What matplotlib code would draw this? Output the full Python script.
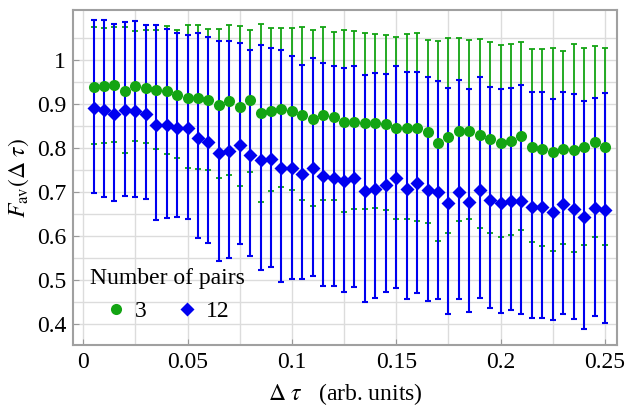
import numpy as np
import matplotlib
matplotlib.use("Agg")
import matplotlib.pyplot as plt
from matplotlib.lines import Line2D

plt.rcParams['font.family'] = ['Liberation Serif', 'DejaVu Serif']
plt.rcParams['mathtext.fontset'] = 'stix'

# data
dtau = [0.005 * (i + 1) for i in range(50)]

green_mean = [0.939, 0.941, 0.943, 0.930, 0.941, 0.938, 0.932, 0.930, 0.922, 0.915,
              0.914, 0.909, 0.899, 0.908, 0.894, 0.909, 0.879, 0.885, 0.890, 0.885,
              0.875, 0.867, 0.875, 0.871, 0.860, 0.860, 0.858, 0.858, 0.854, 0.845,
              0.847, 0.845, 0.836, 0.812, 0.826, 0.839, 0.839, 0.831, 0.822, 0.812,
              0.817, 0.827, 0.803, 0.798, 0.792, 0.798, 0.795, 0.802, 0.813, 0.802]
green_hi = [1.076, 1.074, 1.076, 1.076, 1.067, 1.070, 1.068, 1.078, 1.070, 1.080,
            1.081, 1.072, 1.072, 1.081, 1.078, 1.070, 1.083, 1.074, 1.074, 1.074,
            1.076, 1.070, 1.076, 1.064, 1.070, 1.067, 1.061, 1.059, 1.057, 1.053,
            1.059, 1.061, 1.047, 1.045, 1.051, 1.051, 1.047, 1.048, 1.042, 1.034,
            1.038, 1.042, 1.025, 1.025, 1.027, 1.021, 1.038, 1.028, 1.033, 1.028]
green_lo = [0.809, 0.811, 0.814, 0.788, 0.817, 0.812, 0.798, 0.786, 0.778, 0.755,
            0.752, 0.750, 0.733, 0.739, 0.714, 0.746, 0.678, 0.702, 0.712, 0.706,
            0.683, 0.668, 0.682, 0.682, 0.655, 0.661, 0.661, 0.664, 0.659, 0.640,
            0.639, 0.634, 0.629, 0.589, 0.608, 0.634, 0.640, 0.619, 0.608, 0.597,
            0.602, 0.615, 0.587, 0.578, 0.566, 0.581, 0.563, 0.580, 0.597, 0.580]

blue_mean = [0.892, 0.886, 0.877, 0.886, 0.885, 0.877, 0.852, 0.852, 0.846, 0.845,
             0.823, 0.814, 0.788, 0.793, 0.807, 0.784, 0.773, 0.775, 0.755, 0.754,
             0.742, 0.755, 0.737, 0.733, 0.725, 0.733, 0.703, 0.708, 0.716, 0.733,
             0.708, 0.720, 0.705, 0.701, 0.676, 0.701, 0.677, 0.705, 0.682, 0.676,
             0.680, 0.680, 0.667, 0.667, 0.655, 0.672, 0.661, 0.644, 0.663, 0.659]
blue_hi = [1.091, 1.091, 1.082, 1.087, 1.089, 1.081, 1.080, 1.072, 1.061, 1.058,
           1.061, 1.053, 1.044, 1.045, 1.040, 1.023, 1.034, 1.027, 1.023, 1.009,
           0.990, 1.006, 0.994, 0.986, 0.983, 0.986, 0.967, 0.970, 0.968, 0.986,
           0.973, 0.973, 0.962, 0.953, 0.937, 0.956, 0.934, 0.962, 0.939, 0.934,
           0.936, 0.943, 0.927, 0.928, 0.911, 0.928, 0.923, 0.907, 0.915, 0.926]
blue_lo = [0.699, 0.689, 0.680, 0.692, 0.689, 0.684, 0.636, 0.642, 0.643, 0.638,
           0.596, 0.585, 0.544, 0.551, 0.583, 0.555, 0.522, 0.530, 0.495, 0.502,
           0.502, 0.510, 0.486, 0.487, 0.473, 0.485, 0.449, 0.460, 0.473, 0.483,
           0.457, 0.471, 0.452, 0.457, 0.422, 0.458, 0.428, 0.460, 0.436, 0.426,
           0.433, 0.423, 0.414, 0.413, 0.409, 0.423, 0.411, 0.388, 0.418, 0.402]

xticks = [0, 0.05, 0.1, 0.15, 0.2, 0.25]
xtick_labels = ['0', '0.05', '0.1', '0.15', '0.2', '0.25']
yticks = [0.4, 0.5, 0.6, 0.7, 0.8, 0.9, 1.0]
ytick_labels = ['0.4', '0.5', '0.6', '0.7', '0.8', '0.9', '1']

green = '#13a413'
blue = '#0000f0'

x = np.array(dtau)
gm, bm = np.array(green_mean), np.array(blue_mean)
g_err = [gm - np.array(green_lo), np.array(green_hi) - gm]
b_err = [bm - np.array(blue_lo), np.array(blue_hi) - bm]

fig = plt.figure(figsize=(6.25, 4.07), dpi=100)
ax = fig.add_axes([0.117, 0.152, 0.870, 0.823])

# error bars first, blue on top of green
ax.errorbar(x, gm, yerr=g_err, fmt='none', ecolor=green, elinewidth=1.3,
            capsize=2.2, capthick=1.3, zorder=2)
ax.errorbar(x, bm, yerr=b_err, fmt='none', ecolor=blue, elinewidth=1.5,
            capsize=2.0, capthick=1.5, zorder=3)
ax.plot(x, gm, 'o', color=green, ms=8, mec='none', zorder=4)
ax.plot(x, bm, 'D', color=blue, ms=7, mec='none', zorder=5)

ax.set_xlim(-0.0048, 0.2557)
ax.set_ylim(0.352, 1.114)
ax.set_xticks(xticks)
ax.set_xticklabels(xtick_labels)
ax.set_yticks(yticks)
ax.set_yticklabels(ytick_labels)
ax.set_xticks(np.arange(0.025, 0.26, 0.05), minor=True)
ax.set_yticks(np.arange(0.45, 1.1, 0.1), minor=True)
ax.grid(True, which='both', color='#dcdcdc', lw=1.0, zorder=0)
ax.set_axisbelow(True)
ax.tick_params(which='major', direction='in', length=4, color='#999999',
               labelsize=17, pad=5)
ax.tick_params(which='minor', length=0)

for s in ax.spines.values():
    s.set_color('#a0a0a0')
    s.set_linewidth(1.5)

ax.set_xlabel(r'$\Delta\ \tau$   (arb. units)', fontsize=17, labelpad=6)
ax.set_ylabel(r'$F_{\rm av}(\Delta\ \tau)$', fontsize=17, labelpad=4)

handles = [Line2D([], [], marker='o', ls='none', color=green, ms=8, mec='none'),
           Line2D([], [], marker='D', ls='none', color=blue, ms=7, mec='none')]
leg = ax.legend(handles, ['3', '12'], title='Number of pairs', ncol=2,
                frameon=False, fontsize=17, title_fontsize=17,
                loc='lower left', bbox_to_anchor=(0.0, 0.02),
                handletextpad=0.3, columnspacing=1.2, handlelength=1.0,
                borderpad=0.2)

fig.savefig('out.png', dpi=100)
